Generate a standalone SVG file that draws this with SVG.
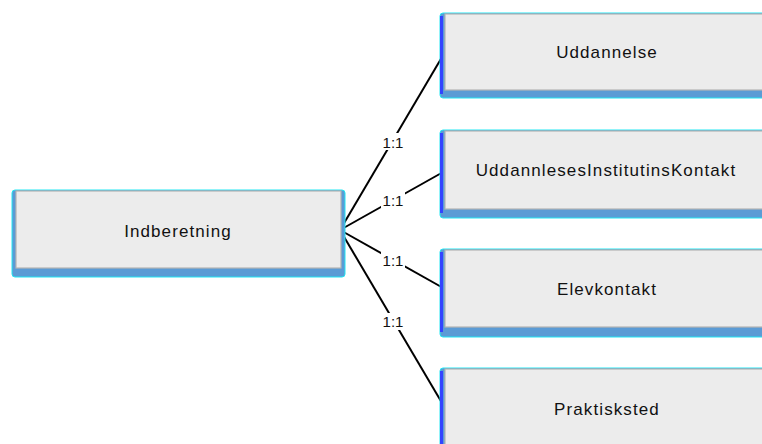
<svg xmlns="http://www.w3.org/2000/svg" width="762" height="444" viewBox="0 0 762 444">
<style>
.sh{fill:#5b9bd5;stroke:#22e6f2;stroke-width:1}
.face{fill:#ececec;stroke:#b4b4b4;stroke-width:1.2}
.edge{fill:#3344ff}
.t{font-family:"Liberation Sans",Arial,sans-serif;font-size:17px;letter-spacing:1.1px;fill:#111;text-anchor:middle}
.lbl{font-family:"Liberation Sans",Arial,sans-serif;font-size:15px;fill:#111;text-anchor:middle}
.c{stroke:#000;stroke-width:2;fill:none}
</style>
<rect width="762" height="444" fill="#fff"/>
<g id="connectors">
<line class="c" x1="340" y1="230" x2="445" y2="52"/>
<line class="c" x1="340" y1="230" x2="445" y2="171"/>
<line class="c" x1="340" y1="230" x2="445" y2="289"/>
<line class="c" x1="340" y1="230" x2="445" y2="408"/>
<g fill="#fff">
<rect x="381" y="133" width="24" height="17"/>
<rect x="381" y="192" width="24" height="17"/>
<rect x="381" y="252" width="24" height="17"/>
<rect x="381" y="313" width="24" height="17"/>
</g>
<text class="lbl" x="393" y="148">1:1</text>
<text class="lbl" x="393" y="206">1:1</text>
<text class="lbl" x="393" y="266">1:1</text>
<text class="lbl" x="393" y="327">1:1</text>
</g>
<g id="Indberetning">
<rect class="sh" x="12" y="190" width="333" height="87" rx="3"/>
<rect class="face" x="16" y="191" width="325" height="77"/>
<text class="t" x="178" y="237">Indberetning</text>
</g>
<g id="Uddannelse">
<rect class="sh" x="440" y="13" width="330" height="85" rx="3"/>
<rect class="edge" x="440" y="16" width="3" height="78"/>
<rect class="face" x="445" y="14" width="325" height="76"/>
<text class="t" x="607" y="58">Uddannelse</text>
</g>
<g id="UddannlesesInstitutinsKontakt">
<rect class="sh" x="440" y="130" width="330" height="88" rx="3"/>
<rect class="edge" x="440" y="133" width="3" height="80"/>
<rect class="face" x="445" y="131" width="325" height="78"/>
<text class="t" x="606" y="176">UddannlesesInstitutinsKontakt</text>
</g>
<g id="Elevkontakt">
<rect class="sh" x="440" y="249" width="330" height="88" rx="3"/>
<rect class="edge" x="440" y="252" width="3" height="80"/>
<rect class="face" x="445" y="250" width="325" height="77"/>
<text class="t" x="607" y="295">Elevkontakt</text>
</g>
<g id="Praktisksted">
<rect class="sh" x="440" y="368" width="330" height="88" rx="3"/>
<rect class="edge" x="440" y="371" width="3" height="80"/>
<rect class="face" x="445" y="369" width="325" height="80"/>
<text class="t" x="607" y="415">Praktisksted</text>
</g>
</svg>
